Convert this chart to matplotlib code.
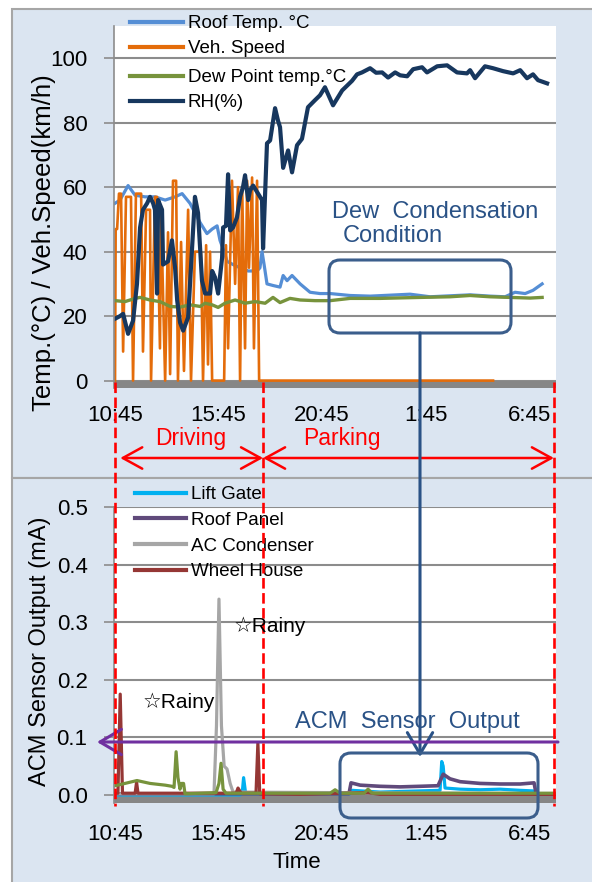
import matplotlib
matplotlib.use("Agg")
import matplotlib.pyplot as plt
import matplotlib.transforms as mtransforms
from matplotlib.patches import Rectangle, FancyBboxPatch, FancyArrowPatch
from matplotlib.lines import Line2D
from matplotlib.ticker import FormatStrFormatter

plt.rcParams['font.family'] = ['Liberation Sans', 'DejaVu Sans']

# ---- data (time = hours after 10:45) ----
roof_t = [0.0, 0.24, 0.63, 0.97, 1.45, 1.93, 2.42, 2.90, 3.24, 3.62, 4.11, 4.44, 4.69, 4.93, 5.07,
          5.27, 5.41, 5.70, 6.04, 6.43, 6.86, 7.00, 7.10, 7.20, 7.34, 7.63, 7.97, 8.12, 8.31, 8.55,
          8.94, 9.42, 9.90, 10.39, 11.35, 12.32, 13.29, 14.25, 15.22, 16.18, 17.15, 18.12, 18.84,
          19.32, 19.81, 20.19, 20.63]
roof_v = [55, 56, 60.5, 57.5, 57, 57, 56, 57, 58, 55, 49, 45.6, 47, 48, 43.5,
          40, 37, 36, 35, 34, 34, 35, 40, 36, 30, 29.5, 29, 32.6, 31, 32.6,
          30, 27.4, 27, 27, 26.4, 26.2, 26.5, 26.8, 26, 26.3, 26.6, 26.2, 26,
          27.4, 27, 28, 30]

spd_t = [0.0, 0.03, 0.10, 0.19, 0.29, 0.39, 0.53, 0.77, 0.87, 1.01, 1.26, 1.35, 1.50, 1.69, 1.74,
         1.93, 2.03, 2.17, 2.22, 2.42, 2.56, 2.66, 2.80, 2.95, 3.04, 3.19, 3.33, 3.53, 3.67, 3.86,
         4.01, 4.15, 4.25, 4.40, 4.49, 4.59, 4.69, 5.27, 5.36, 5.46, 5.65, 5.80, 5.94, 6.04, 6.14,
         6.28, 6.38, 6.47, 6.62, 6.71, 6.86, 6.96, 18.26]
spd_v = [0, 47, 47, 58, 58, 9, 57, 57, 0, 58, 58, 9, 53, 53, 0,
         57, 57, 10, 53, 0, 46, 2, 62, 62, 0, 43, 3, 53, 0, 40,
         40, 40, 0, 42, 5, 40, 0, 0, 42, 10, 62, 30, 60, 0, 60,
         10, 62, 35, 63, 10, 62, 0, 0]

dew_t = [0, 0.48, 0.97, 1.21, 1.69, 2.17, 2.66, 3.14, 3.62, 4.11, 4.35, 4.69, 4.98, 5.31, 5.80,
         6.28, 6.76, 7.25, 7.63, 7.97, 8.45, 8.94, 9.66, 10.39, 11.35, 12.80, 14.73, 16.18, 17.15,
         18.12, 19.08, 20.05, 20.63]
dew_v = [24.8, 24.5, 25.5, 25.8, 25, 24.5, 23, 22.8, 23.5, 23, 24, 23.5, 22.7, 24, 25,
         24, 24.5, 24, 25.8, 24.2, 25.5, 25, 24.8, 24.8, 25.5, 25.5, 25.8, 26, 26.4,
         26, 25.8, 25.6, 25.8]

rh_t = [0.0, 0.24, 0.39, 0.63, 0.87, 1.06, 1.21, 1.35, 1.55, 1.69, 1.84, 1.93, 2.03, 2.08, 2.27,
        2.32, 2.56, 2.75, 2.90, 3.00, 3.14, 3.29, 3.53, 3.72, 3.86, 4.01, 4.20, 4.35, 4.59, 4.69,
        4.83, 4.98, 5.17, 5.22, 5.36, 5.46, 5.56, 5.70, 5.89, 6.04, 6.18, 6.28, 6.43, 6.52, 6.67,
        6.91, 7.10, 7.15, 7.34, 7.49, 7.73, 7.87, 7.97, 8.12, 8.36, 8.55, 8.79, 9.03, 9.32, 9.66,
        9.90, 10.14, 10.53, 10.97, 11.45, 11.69, 11.93, 12.32, 12.61, 12.90, 13.19, 13.53, 13.77,
        14.11, 14.40, 14.83, 15.07, 15.56, 16.04, 16.52, 17.00, 17.15, 17.39, 17.87, 18.26, 18.74,
        19.23, 19.57, 19.90, 20.19, 20.43, 20.87]
rh_v = [19.2, 20, 20.7, 14.5, 18.6, 30, 47.5, 53, 55, 57, 55, 53, 27, 56, 53,
        36, 37, 43.5, 35, 25, 18, 15.5, 19.6, 41, 57, 52, 31, 27, 27, 34,
        32, 27, 38, 47.5, 48, 64, 46.6, 47.5, 50.6, 57, 60, 63.7, 56, 59, 60.5,
        58, 56, 41, 73.6, 74.5, 84.5, 80.7, 78.6, 66, 71.4, 64.6, 73, 75, 84.8, 87,
        88.5, 91, 85.4, 90, 93, 95, 95.6, 96.9, 95.5, 95.6, 94, 95.6, 94.7,
        94.4, 96.6, 97.2, 95.6, 97.5, 97.8, 95.6, 95.3, 96.3, 93.8, 97.5, 96.9, 96,
        95.3, 96.3, 93.8, 95, 93.2, 92.2]

lg_t = [0.0, 6.04, 6.14, 6.21, 6.31, 11.35, 11.45, 12.80, 14.73, 15.70, 15.78, 15.85, 15.94,
        16.67, 17.63, 18.60, 19.57, 20.19, 20.34, 21.26]
lg_v = [0.0, 0.0, 0.002, 0.03, 0.002, 0.002, 0.008, 0.005, 0.007, 0.008, 0.058, 0.05, 0.012,
        0.01, 0.009, 0.01, 0.008, 0.007, 0.001, 0.001]

rp_t = [0.0, 11.30, 11.40, 11.84, 12.80, 13.77, 14.73, 15.60, 15.85, 16.18, 16.67, 17.63, 18.60,
        19.57, 20.24, 20.34, 21.26]
rp_v = [0.002, 0.002, 0.021, 0.017, 0.015, 0.014, 0.015, 0.016, 0.036, 0.028, 0.023, 0.02, 0.019,
        0.019, 0.021, 0.002, 0.002]

ac_t = [0.0, 4.78, 4.90, 5.02, 5.14, 5.27, 5.41, 5.56, 5.70, 21.26]
ac_v = [0.002, 0.002, 0.12, 0.34, 0.12, 0.05, 0.045, 0.02, 0.005, 0.002]

wh_t = [0.0, 0.14, 0.25, 0.36, 0.97, 1.04, 1.11, 5.85, 5.94, 6.09, 6.81, 6.90, 6.99, 8.94,
        12.22, 12.80, 21.26]
wh_v = [0.003, 0.003, 0.175, 0.003, 0.003, 0.022, 0.003, 0.003, 0.012, 0.003, 0.003, 0.09,
        0.002, 0.001, 0.004, 0.001, 0.001]

# extra (unlabelled) olive series in lower chart
ex_t = [0.0, 0.48, 1.06, 1.69, 2.42, 2.75, 2.85, 2.95, 3.04, 3.14, 3.21, 3.31, 3.38, 4.88, 5.02,
        5.12, 5.22, 5.36, 10.39, 10.63, 10.87, 12.03, 12.22, 12.42, 21.26]
ex_v = [0.016, 0.02, 0.025, 0.02, 0.017, 0.015, 0.013, 0.075, 0.03, 0.01, 0.02, 0.02, 0.002,
        0.004, 0.02, 0.055, 0.01, 0.003, 0.003, 0.009, 0.003, 0.003, 0.01, 0.003, 0.003]

tick_pos = [0, 5, 10, 15, 20]
tick_labels = ['10:45', '15:45', '20:45', '1:45', '6:45']
drive_start, drive_end, park_end = 0.0, 7.15, 21.2

C_ROOF, C_SPD, C_DEW, C_RH = '#558ed5', '#e46c0a', '#77933c', '#17375e'
C_LG, C_RP, C_AC, C_WH = '#00b0f0', '#604a7b', '#a6a6a6', '#953735'
NAVY_TXT = '#2a5286'
GRID = '#8c8c8c'
BAR = '#868686'
BG = '#dbe5f1'

W, H = 592, 882
fig = plt.figure(figsize=(W / 100, H / 100), dpi=100)


def fbox(x0, y0, x1, y1):
    # pixel box measured from top-left -> figure fraction rect
    return [x0 / W, 1 - y1 / H, (x1 - x0) / W, (y1 - y0) / H]


# background panels
bg = fig.add_axes([0, 0, 1, 1], zorder=-5)
bg.set_xlim(0, W)
bg.set_ylim(H, 0)
bg.axis('off')
bg.add_patch(Rectangle((12, 9), W, 469, fc=BG, ec='#a6a6a6', lw=1.5))
bg.add_patch(Rectangle((12, 478), W, H, fc=BG, ec='#a6a6a6', lw=1.5))

ax1 = fig.add_axes(fbox(114, 26, 556, 388))
ax2 = fig.add_axes(fbox(114, 507, 556, 803))

for ax in (ax1, ax2):
    ax.set_facecolor('white')
    for s in ('top', 'right', 'bottom'):
        ax.spines[s].set_visible(False)
    ax.spines['left'].set_color(GRID)
    ax.spines['left'].set_linewidth(1.2)
    ax.yaxis.grid(True, color=GRID, lw=1.5)
    ax.set_axisbelow(True)
    ax.tick_params(axis='y', length=7, width=1.2, color=GRID, pad=12, labelsize=16)
    ax.tick_params(axis='x', length=0, labelsize=16)
    ax.set_xlim(-0.05, 21.3)
    ax.set_xticks(tick_pos, tick_labels)

# ---- top chart ----
ax1.set_ylim(-2.3, 110)
ax1.set_yticks([0, 20, 40, 60, 80, 100])
ax1.axhspan(-2.3, 0, color=BAR, lw=0, zorder=1.5)
ax1.tick_params(axis='x', pad=12)
ax1.plot(roof_t, roof_v, color=C_ROOF, lw=2.3, zorder=2)
ax1.plot(spd_t, spd_v, color=C_SPD, lw=1.9, zorder=2.1)
ax1.plot(dew_t, dew_v, color=C_DEW, lw=2.4, zorder=2.2)
ax1.plot(rh_t, rh_v, color=C_RH, lw=3.0, zorder=2.3)

leg_kw = dict(frameon=False, fontsize=13.5, handlelength=2.8, handletextpad=0.28,
              labelspacing=0.42, borderpad=0, borderaxespad=0,
              bbox_transform=fig.transFigure, loc='upper left')
h_a = [Line2D([], [], color=C_ROOF, lw=3), Line2D([], [], color=C_SPD, lw=3)]
h_b = [Line2D([], [], color=C_DEW, lw=3), Line2D([], [], color=C_RH, lw=3)]
lega = ax1.legend(h_a, ['Roof Temp. °C', 'Veh. Speed'], bbox_to_anchor=(130 / W, 1 - 15 / H), **leg_kw)
ax1.add_artist(lega)
ax1.legend(h_b, ['Dew Point temp.°C', 'RH(%)'], bbox_to_anchor=(130 / W, 1 - 69 / H), **leg_kw)

# ---- bottom chart ----
ax2.set_ylim(-0.014, 0.5)
ax2.set_yticks([0, 0.1, 0.2, 0.3, 0.4, 0.5])
ax2.yaxis.set_major_formatter(FormatStrFormatter('%.1f'))
ax2.axhspan(-0.014, 0, color=BAR, lw=0, zorder=1.5)
ax2.tick_params(axis='x', pad=15)
ax2.plot(lg_t, lg_v, color=C_LG, lw=2.3, zorder=2)
ax2.plot(rp_t, rp_v, color=C_RP, lw=2.6, zorder=2.1)
ax2.plot(ac_t, ac_v, color=C_AC, lw=2.3, zorder=2.2)
ax2.plot(wh_t, wh_v, color=C_WH, lw=2.3, zorder=2.3)
ax2.plot(ex_t, ex_v, color=C_DEW, lw=2.3, zorder=2.4)
h_c = [Line2D([], [], color=c, lw=3) for c in (C_LG, C_RP, C_AC, C_WH)]
ax2.legend(h_c, ['Lift Gate', 'Roof Panel', 'AC Condenser', 'Wheel House'],
           bbox_to_anchor=(135 / W, 1 - 486 / H), **dict(leg_kw, labelspacing=0.46, handlelength=2.7))

# ---- overlay annotations (pixel coordinates) ----
ov = fig.add_axes([0, 0, 1, 1], zorder=10)
ov.set_xlim(0, W)
ov.set_ylim(H, 0)
ov.axis('off')
ov.patch.set_alpha(0)

ov.text(44, 243, 'Temp.(°C) / Veh.Speed(km/h)', rotation=90, ha='center', va='center', fontsize=18.5)
ov.text(40, 651, 'ACM Sensor Output (mA)', rotation=90, ha='center', va='center', fontsize=17)
ov.text(297, 862, 'Time', ha='center', va='center', fontsize=16)

# driving / parking marks, x taken from the time axis
blend = mtransforms.blended_transform_factory(ax1.transData, ov.transData)
for t in (drive_start, drive_end, park_end):
    ov.add_line(Line2D([t, t], [382, 806], transform=blend, color='#ff0000', lw=1.9,
                       linestyle=(0, (4, 1.7)), clip_on=False))
red_arrow = dict(arrowstyle='<->,head_length=1.0,head_width=0.55', mutation_scale=14,
                 color='#ff0000', lw=1.8, shrinkA=0, shrinkB=0, transform=blend, clip_on=False)
ov.add_patch(FancyArrowPatch((0.25, 458), (drive_end, 458), **red_arrow))
ov.add_patch(FancyArrowPatch((drive_end, 458), (park_end, 458), **red_arrow))
ov.text(191, 439, 'Driving', color='#ff0000', ha='center', va='center', fontsize=16.5)
ov.text(342, 439, 'Parking', color='#ff0000', ha='center', va='center', fontsize=16.5)

# dew condensation box and link to sensor output box
ov.text(332, 212, 'Dew  Condensation', color=NAVY_TXT, ha='left', va='center', fontsize=17)
ov.text(343, 236, 'Condition', color=NAVY_TXT, ha='left', va='center', fontsize=17)
ov.add_patch(FancyBboxPatch((329, 260), 182, 73, boxstyle='round,pad=0,rounding_size=11',
                            fc='none', ec='#3b5e8c', lw=2.2))
ov.add_patch(FancyArrowPatch((420, 333), (420, 757), arrowstyle='->,head_length=1.1,head_width=0.65',
                             mutation_scale=14, color=NAVY_TXT, lw=2.2, shrinkA=0, shrinkB=0))
ov.add_patch(FancyBboxPatch((340, 753), 198, 65, boxstyle='round,pad=0,rounding_size=11',
                            fc='none', ec='#3b5e8c', lw=2.2))
ov.text(295, 722, 'ACM  Sensor  Output', color=NAVY_TXT, ha='left', va='center', fontsize=17)
ov.add_patch(FancyArrowPatch((558, 742), (97, 742), arrowstyle='->,head_length=1.1,head_width=0.65',
                             mutation_scale=14, color='#7030a0', lw=2.2, shrinkA=0, shrinkB=0))

ov.text(143, 702, '☆Rainy', ha='left', va='center', fontsize=15)
ov.text(234, 626, '☆Rainy', ha='left', va='center', fontsize=15)

fig.savefig('out.png', dpi=100)
